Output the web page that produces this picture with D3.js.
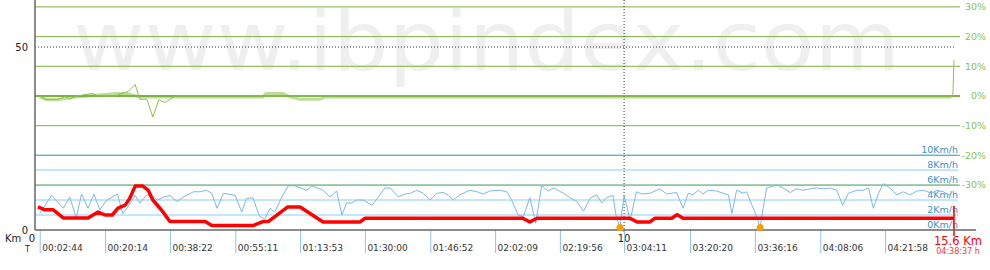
<!DOCTYPE html>
<html>
<head>
<meta charset="utf-8">
<script src="https://cdn.jsdelivr.net/npm/d3@7"></script>
<style>
  body { margin: 0; background: #fff; }
  svg { display: block; font-family: "DejaVu Sans", Verdana, sans-serif; }
</style>
</head>
<body>
<svg id="chart" width="990" height="270"></svg>
<script>
// altitude (red, left axis) as [km, value]
var altitude = [
  [0.05,6.3],[0.17,5.5],[0.31,5.5],[0.48,3.3],[0.90,3.3],[1.07,4.9],[1.19,4.1],[1.31,4.1],
  [1.41,6.0],[1.53,6.8],[1.61,8.7],[1.70,12.0],[1.83,12.0],[1.92,10.9],[2.00,8.2],[2.16,5.2],
  [2.29,2.3],[2.89,2.3],[3.00,1.2],[3.70,1.2],[3.87,2.3],[3.96,2.3],[4.29,6.3],[4.50,6.3],
  [4.89,2.2],[5.52,2.2],[5.60,3.2],[8.28,3.2],[8.40,2.2],[8.52,3.2],[10.10,3.2],[10.22,2.2],
  [10.44,2.2],[10.52,3.2],[10.81,3.2],[10.90,4.2],[11.00,3.2],[15.60,3.2]
];

// speed km/h (blue)
var speed = [
  [0.08,2.2],[0.28,4.6],[0.48,2.9],[0.59,4.4],[0.70,1.6],[0.79,4.8],[0.90,2.9],[1.00,4.8],
  [1.10,2.7],[1.22,4.0],[1.40,4.8],[1.49,2.2],[1.58,3.1],[1.70,4.6],[1.78,3.6],[1.90,4.7],
  [2.01,4.4],[2.08,4.0],[2.18,4.4],[2.29,4.6],[2.41,3.8],[2.52,4.4],[2.69,5.1],[2.80,5.1],
  [2.91,5.3],[3.00,4.9],[3.09,2.9],[3.20,4.9],[3.40,4.6],[3.51,2.4],[3.59,4.2],[3.70,4.3],
  [3.81,1.8],[3.90,1.5],[3.99,2.9],[4.07,2.4],[4.19,4.4],[4.30,5.9],[4.41,5.9],[4.61,5.3],
  [4.70,5.9],[4.89,5.3],[5.01,4.4],[5.12,5.2],[5.21,2.0],[5.29,3.6],[5.38,3.6],[5.46,4.0],
  [5.57,4.0],[5.72,3.3],[5.83,4.4],[5.94,5.6],[6.03,5.6],[6.11,4.9],[6.17,4.4],[6.28,4.8],
  [6.37,4.9],[6.48,5.3],[6.59,4.9],[6.71,4.0],[6.82,4.9],[6.93,5.0],[7.02,4.6],[7.10,4.0],
  [7.21,4.7],[7.38,5.3],[7.50,5.1],[7.61,4.8],[7.72,5.2],[7.89,5.3],[8.01,5.1],[8.09,4.0],
  [8.20,2.0],[8.29,1.8],[8.40,4.3],[8.50,0.9],[8.60,5.9],[8.71,5.2],[8.80,5.6],[8.97,4.9],
  [9.08,4.3],[9.20,3.8],[9.31,2.5],[9.42,4.2],[9.53,4.7],[9.62,3.6],[9.70,4.3],[9.81,4.6],
  [9.87,1.6],[9.93,0.4],[10.00,4.6],[10.07,2.4],[10.10,1.2],[10.21,5.1],[10.30,4.8],[10.44,4.9],
  [10.61,5.5],[10.72,4.8],[10.89,5.0],[11.00,2.9],[11.09,4.9],[11.17,4.7],[11.26,5.3],[11.34,4.8],
  [11.43,5.3],[11.57,5.2],[11.68,4.9],[11.77,4.7],[11.83,2.2],[11.91,5.3],[12.02,4.9],[12.08,5.1],
  [12.17,3.3],[12.22,2.4],[12.31,0.4],[12.36,2.9],[12.42,5.6],[12.59,6.0],[12.70,5.6],[12.82,5.0],
  [12.93,5.5],[13.04,5.3],[13.16,5.5],[13.27,5.6],[13.38,5.5],[13.50,5.6],[13.61,5.3],[13.71,3.3],
  [13.81,4.9],[13.95,5.3],[14.06,5.3],[14.15,5.6],[14.23,2.9],[14.32,4.9],[14.40,6.2],[14.51,5.6],
  [14.63,4.7],[14.74,5.1],[14.85,4.7],[14.97,5.2],[15.08,5.3],[15.22,4.9],[15.31,5.3],[15.42,5.1],
  [15.50,4.7],[15.56,4.9]
];

// slope % (thin green)
var slope = [
  [0.08,0],[0.17,-1.1],[0.39,-1.1],[0.51,-0.2],[0.59,-1.1],[0.71,0],[0.98,0.9],[1.07,0],
  [1.36,0],[1.58,1.5],[1.70,3.9],[1.78,-1.1],[1.90,-1.1],[2.00,-7.1],[2.10,-1.3],[2.21,-2.2],
  [2.38,0],[15.58,0],[15.60,12.0]
];

// smoothed slope % (thick light green)
var slopeSmooth = [
  [0.08,-0.3],[0.20,-1.3],[0.39,-1.3],[0.68,-0.3],[1.39,0.8],[1.56,0.8],[1.78,-0.3],
  [3.87,-0.3],[3.92,0.8],[4.21,0.8],[4.33,-0.3],[4.50,-1.1],[4.84,-1.1],[4.92,-0.3],[15.56,-0.3]
];

// stops (orange dots)
var stops = [9.93, 12.31];

var timeTicksKm = [0.08, 1.19, 2.29, 3.40, 4.50, 5.60, 6.71, 7.81, 8.91, 10.0, 11.12, 12.22, 13.33, 14.43];
var timeLabels = ["00:02:44","00:20:14","00:38:22","00:55:11","01:13:53","01:30:00","01:46:52",
                  "02:02:09","02:19:56","03:04:11","03:20:20","03:36:16","04:08:06","04:21:58"];
var speedTicks = [0, 2, 4, 6, 8, 10];
var slopeTicks = [30, 20, 10, 0, -10, -20, -30];
var altTicks = [0, 50];
var kmMarks = [10];

var totalKm = 15.6, totalTime = "04:38:37 h";

var svg = d3.select("#chart");

var x = d3.scaleLinear().domain([0, totalKm]).range([35, 954]);
var yAlt = d3.scaleLinear().domain([0, 50]).range([230, 47]);
var ySpd = d3.scaleLinear().domain([0, 10]).range([230, 155]);
var ySlope = d3.scaleLinear().domain([-30, 30]).range([185.1, 6.9]);

// watermark
svg.append("text")
  .attr("x", 73).attr("y", 70)
  .attr("textLength", 827).attr("lengthAdjust", "spacingAndGlyphs")
  .style("font-size", "82px")
  .style("fill", "#efefef")
  .text("www.ibpindex.com");

// speed grid
svg.append("g").selectAll("line")
  .data(speedTicks.filter(function(d){ return d > 0; }))
  .join("line")
    .attr("x1", 35).attr("x2", 958)
    .attr("y1", function(d){ return ySpd(d); }).attr("y2", function(d){ return ySpd(d); })
    .attr("stroke", "#87cefa").attr("stroke-width", 1);

svg.append("g").selectAll("text")
  .data(speedTicks)
  .join("text")
    .attr("x", 958).attr("y", function(d){ return ySpd(d) - 2; })
    .attr("text-anchor", "end")
    .style("font-size", "9.5px").style("fill", "#3f8fcf")
    .text(function(d){ return d + "Km/h"; });

// smoothed slope behind the grid
var line = d3.line().x(function(d){ return x(d[0]); });

svg.append("path")
  .datum(slopeSmooth)
  .attr("d", line.y(function(d){ return ySlope(d[1]); }))
  .attr("fill", "none").attr("stroke", "#bddc97").attr("stroke-width", 3);

// slope grid
svg.append("g").selectAll("line")
  .data(slopeTicks)
  .join("line")
    .attr("x1", 35).attr("x2", 960)
    .attr("y1", function(d){ return ySlope(d); }).attr("y2", function(d){ return ySlope(d); })
    .attr("stroke", "#7cb33e").attr("stroke-width", function(d){ return d == 0 ? 2 : 1; });

svg.append("g").selectAll("text")
  .data(slopeTicks)
  .join("text")
    .attr("x", 986).attr("y", function(d){ return ySlope(d); })
    .attr("dy", "0.35em")
    .attr("text-anchor", "end")
    .style("font-size", "9.5px").style("fill", "#8cc152")
    .text(function(d){ return d + "%"; });

// 50 dotted line
svg.append("line")
  .attr("x1", 35).attr("x2", 955)
  .attr("y1", yAlt(50)).attr("y2", yAlt(50))
  .attr("stroke", "#333").attr("stroke-dasharray", "1,2");

// km marks
svg.append("g").selectAll("line")
  .data(kmMarks)
  .join("line")
    .attr("x1", function(d){ return x(d); }).attr("x2", function(d){ return x(d); })
    .attr("y1", 0).attr("y2", 233)
    .attr("stroke", "#333").attr("stroke-dasharray", "1,2");

svg.append("g").selectAll("text")
  .data(kmMarks)
  .join("text")
    .attr("x", function(d){ return x(d); }).attr("y", 242)
    .attr("text-anchor", "middle")
    .style("font-size", "10px").style("fill", "#222")
    .text(function(d){ return d; });

// slope line
svg.append("path")
  .datum(slope)
  .attr("d", line.y(function(d){ return ySlope(d[1]); }))
  .attr("fill", "none").attr("stroke", "#8cc152").attr("stroke-width", 1);

// speed line
svg.append("path")
  .datum(speed)
  .attr("d", line.y(function(d){ return ySpd(d[1]); }))
  .attr("fill", "none").attr("stroke", "#7db9e3").attr("stroke-width", 1);

// altitude line
svg.append("path")
  .datum(altitude)
  .attr("d", line.y(function(d){ return yAlt(d[1]); }))
  .attr("fill", "none").attr("stroke", "#ff0000").attr("stroke-width", 3.5)
  .attr("stroke-linejoin", "round");

// end marker
svg.append("line")
  .attr("x1", x(totalKm)).attr("x2", x(totalKm))
  .attr("y1", 206).attr("y2", 236)
  .attr("stroke", "#ff0000").attr("stroke-width", 1.5);

// time axis
var tAxis = svg.append("g")
  .attr("transform", "translate(0,230)")
  .call(d3.axisBottom(x).tickValues(timeTicksKm)
    .tickFormat(function(d, i){ return timeLabels[i]; })
    .tickSizeInner(23).tickSizeOuter(0));
tAxis.select(".domain").remove();
tAxis.selectAll(".tick line").attr("stroke", "#8ec3ea");
tAxis.selectAll(".tick text")
  .attr("text-anchor", "start").attr("x", 2).attr("y", 21).attr("dy", 0)
  .style("font-family", "DejaVu Sans").style("font-size", "9px").style("fill", "#333");

// altitude axis
var aAxis = svg.append("g")
  .attr("transform", "translate(35,0)")
  .call(d3.axisLeft(yAlt).tickValues(altTicks).tickSize(0).tickPadding(7));
aAxis.select(".domain").remove();
aAxis.selectAll("text").style("font-family", "DejaVu Sans").style("font-size", "10px").style("fill", "#222");

svg.append("line").attr("x1", 35).attr("x2", 35).attr("y1", 0).attr("y2", 230)
  .attr("stroke", "#666").attr("stroke-width", 1.5);
svg.append("line").attr("x1", 35).attr("x2", 976).attr("y1", 230).attr("y2", 230)
  .attr("stroke", "#666").attr("stroke-width", 1.5);

// stops, on top of the axis
svg.append("g").selectAll("circle")
  .data(stops)
  .join("circle")
    .attr("cx", function(d){ return x(d); }).attr("cy", 227.5).attr("r", 3.5)
    .attr("fill", "#f5a000");

svg.append("text").attr("x", 5).attr("y", 242)
  .style("font-size", "10px").style("fill", "#222").text("Km");
svg.append("text").attr("x", 32).attr("y", 242).attr("text-anchor", "middle")
  .style("font-size", "10px").style("fill", "#222").text("0");
svg.append("text").attr("x", 25).attr("y", 252)
  .style("font-size", "8px").style("fill", "#222").text("T");

// totals
svg.append("text").attr("x", 958).attr("y", 245).attr("text-anchor", "middle")
  .style("font-size", "11.5px").style("fill", "#ff0000").text(totalKm + " Km");
svg.append("text").attr("x", 958).attr("y", 254).attr("text-anchor", "middle")
  .style("font-size", "8px").style("fill", "#ff3333").text(totalTime);
</script>
</body>
</html>
